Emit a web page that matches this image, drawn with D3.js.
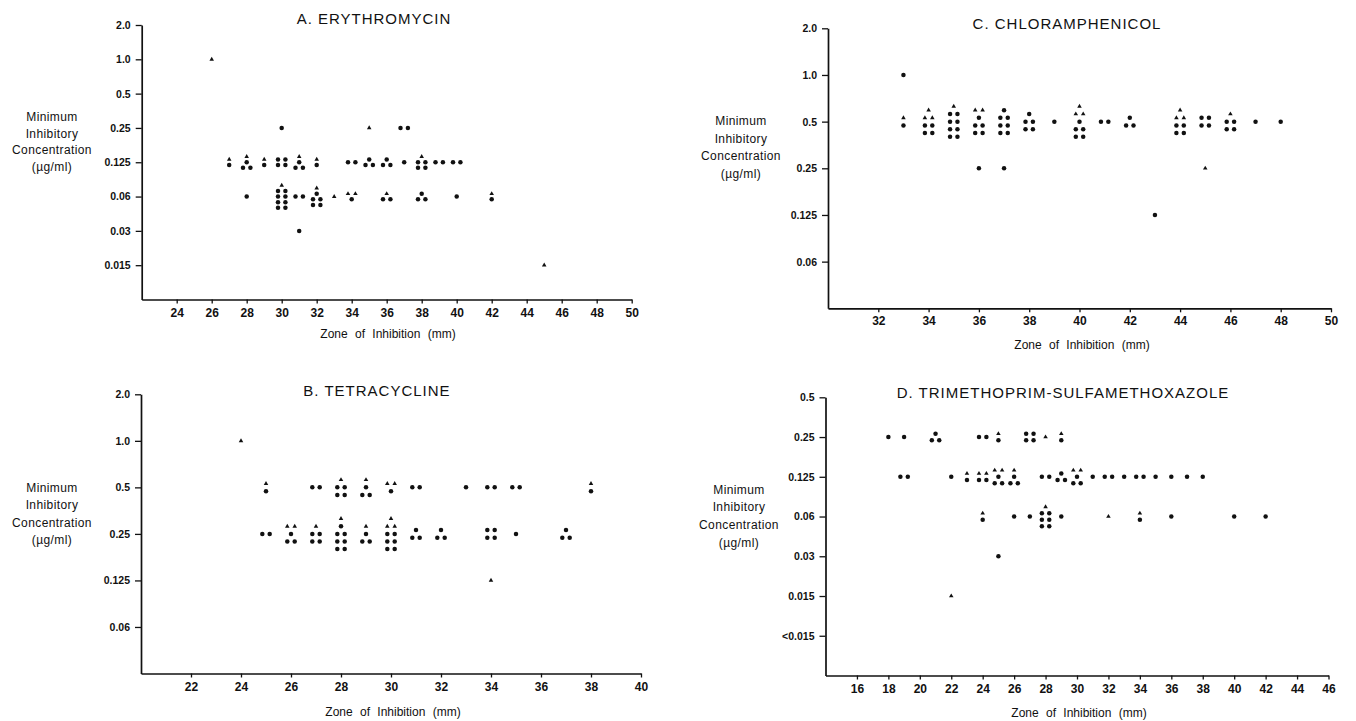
<!DOCTYPE html>
<html><head><meta charset="utf-8">
<script src="https://cdn.jsdelivr.net/npm/d3@7"></script>
<style>
html,body{margin:0;padding:0;background:#fff;}
svg{display:block;font-family:"Liberation Sans",Arial,Helvetica,sans-serif;}
</style></head><body>
<svg id="chart" width="1356" height="721"></svg>
<script>
// ---------------- DATA ----------------
// Each record: [zone of inhibition (mm), MIC label, number of circles, number of triangles]
const erythromycinMic = ["0.015","0.03","0.06","0.125","0.25","0.5","1.0","2.0"];
const erythromycinZones = [24,26,28,30,32,34,36,38,40,42,44,46,48,50];
const erythromycin = [
  [26,"1.0",0,1],
  [30,"0.25",1,0],[35,"0.25",0,1],[37,"0.25",2,0],
  [27,"0.125",1,1],[28,"0.125",3,1],[29,"0.125",1,1],[30,"0.125",4,0],[31,"0.125",3,1],[32,"0.125",1,1],
  [34,"0.125",2,0],[35,"0.125",3,0],[36,"0.125",3,0],[37,"0.125",1,0],[38,"0.125",4,1],[39,"0.125",2,0],[40,"0.125",2,0],
  [28,"0.06",1,0],[30,"0.06",8,1],[31,"0.06",2,0],[32,"0.06",5,1],[33,"0.06",0,1],[34,"0.06",1,2],
  [36,"0.06",2,1],[38,"0.06",3,0],[40,"0.06",1,0],[42,"0.06",1,1],
  [31,"0.03",1,0],
  [45,"0.015",0,1]
];

const tetracyclineMic = ["0.06","0.125","0.25","0.5","1.0","2.0"];
const tetracyclineZones = [22,24,26,28,30,32,34,36,38,40];
const tetracycline = [
  [24,"1.0",0,1],
  [25,"0.5",1,1],[27,"0.5",2,0],[28,"0.5",4,1],[29,"0.5",3,1],[30,"0.5",1,2],[31,"0.5",2,0],
  [33,"0.5",1,0],[34,"0.5",2,0],[35,"0.5",2,0],[38,"0.5",1,1],
  [25,"0.25",2,0],[26,"0.25",3,2],[27,"0.25",4,1],[28,"0.25",7,1],[29,"0.25",3,1],[30,"0.25",6,3],
  [31,"0.25",3,0],[32,"0.25",3,0],[34,"0.25",4,0],[35,"0.25",1,0],[37,"0.25",3,0],
  [34,"0.125",0,1]
];

const chloramphenicolMic = ["0.06","0.125","0.25","0.5","1.0","2.0"];
const chloramphenicolZones = [32,34,36,38,40,42,44,46,48,50];
const chloramphenicol = [
  [33,"1.0",1,0],
  [33,"0.5",1,1],[34,"0.5",4,3],[35,"0.5",8,1],[36,"0.5",5,2],[37,"0.5",7,0],[38,"0.5",5,0],
  [39,"0.5",1,0],[40,"0.5",5,3],[41,"0.5",2,0],[42,"0.5",3,0],[44,"0.5",4,3],[45,"0.5",4,0],
  [46,"0.5",4,1],[47,"0.5",1,0],[48,"0.5",1,0],
  [36,"0.25",1,0],[37,"0.25",1,0],[45,"0.25",0,1],
  [43,"0.125",1,0]
];

const tmpSmxMic = ["<0.015","0.015","0.03","0.06","0.125","0.25","0.5"];
const tmpSmxZones = [16,18,20,22,24,26,28,30,32,34,36,38,40,42,44,46];
const tmpSmx = [
  [18,"0.25",1,0],[19,"0.25",1,0],[21,"0.25",3,0],[24,"0.25",2,0],[25,"0.25",1,1],[27,"0.25",4,0],
  [28,"0.25",0,1],[29,"0.25",1,1],
  [19,"0.125",2,0],[22,"0.125",1,0],[23,"0.125",1,1],[24,"0.125",2,2],[25,"0.125",3,2],[26,"0.125",3,1],
  [28,"0.125",2,0],[29,"0.125",3,0],[30,"0.125",3,2],[31,"0.125",1,0],[32,"0.125",2,0],[33,"0.125",1,0],
  [34,"0.125",2,0],[35,"0.125",1,0],[36,"0.125",1,0],[37,"0.125",1,0],[38,"0.125",1,0],
  [24,"0.06",1,1],[26,"0.06",1,0],[27,"0.06",1,0],[28,"0.06",6,1],[29,"0.06",1,0],[32,"0.06",0,1],
  [34,"0.06",1,1],[36,"0.06",1,0],[40,"0.06",1,0],[42,"0.06",1,0],
  [25,"0.03",1,0],
  [22,"0.015",0,1]
];

const yAxisTitle = ["Minimum","Inhibitory","Concentration","(\u00b5g/ml)"];
const xAxisTitle = "Zone of Inhibition (mm)";

// ---------------- LAYOUT ----------------
const panels = [
  {title:"A. ERYTHROMYCIN", data:erythromycin, mic:erythromycinMic, zones:erythromycinZones,
   xDomain:[22,50], xRange:[141.7,631.7], yRange:[299.5,25],
   titlePos:[374,24], xTitlePos:[388,338], yTitlePos:[52,121], yTitleGap:16.7},
  {title:"B. TETRACYCLINE", data:tetracycline, mic:tetracyclineMic, zones:tetracyclineZones,
   xDomain:[20,40], xRange:[141,641], yRange:[673.5,394.3],
   titlePos:[377,396], xTitlePos:[393,716], yTitlePos:[52,491.5], yTitleGap:17.5},
  {title:"C. CHLORAMPHENICOL", data:chloramphenicol, mic:chloramphenicolMic, zones:chloramphenicolZones,
   xDomain:[30,50], xRange:[828,1331], yRange:[308.3,28.3],
   titlePos:[1067,29], xTitlePos:[1082,349], yTitlePos:[741,125], yTitleGap:17.7},
  {title:"D. TRIMETHOPRIM-SULFAMETHOXAZOLE", data:tmpSmx, mic:tmpSmxMic, zones:tmpSmxZones,
   xDomain:[14,46], xRange:[825.5,1328.5], yRange:[675.5,397.3],
   titlePos:[1063,398], xTitlePos:[1079,717], yTitlePos:[739,493.5], yTitleGap:17.8}
];

const INK = "#111";
const R = 2.25, DX = 3.7;
const triSym = d3.symbol().type(d3.symbolTriangle).size(9);

const svg = d3.select("#chart");

panels.forEach(p => {
  const g = svg.append("g");
  const x = d3.scaleLinear().domain(p.xDomain).range(p.xRange);
  const y = d3.scaleLinear().domain([-1, p.mic.length - 1]).range(p.yRange);
  const step = Math.abs(y(0) - y(1));
  const gap = step * 0.163;

  // axes
  const xAxis = d3.axisBottom(x).tickValues(p.zones).tickSize(4).tickSizeOuter(0).tickPadding(4.5);
  const gx = g.append("g").attr("transform", `translate(0,${p.yRange[0]})`).call(xAxis);
  const yAxis = d3.axisLeft(y).tickValues(d3.range(p.mic.length)).tickFormat(i => p.mic[i])
      .tickSize(6).tickSizeOuter(0).tickPadding(5);
  const gy = g.append("g").attr("transform", `translate(${p.xRange[0]},0)`).call(yAxis);

  [gx, gy].forEach(a => {
    a.select(".domain").attr("stroke", INK).attr("stroke-width", 1.7);
    a.selectAll(".tick line").attr("stroke", INK).attr("stroke-width", 1.3);
    a.selectAll(".tick text").attr("fill", INK).style("font-family", '"Liberation Sans",Arial,sans-serif');
  });
  gx.selectAll(".tick text").style("font-size", "12px").style("font-weight", "bold");
  gy.selectAll(".tick text").style("font-size", "10.5px").style("font-weight", "bold");

  // titles
  g.append("text").attr("x", p.titlePos[0]).attr("y", p.titlePos[1])
    .attr("text-anchor", "middle").attr("fill", INK)
    .style("font-size", "15px").style("letter-spacing", "1px").text(p.title);
  g.append("text").attr("x", p.xTitlePos[0]).attr("y", p.xTitlePos[1])
    .attr("text-anchor", "middle").attr("fill", INK)
    .style("font-size", "12px").style("word-spacing", "4px").text(xAxisTitle);
  g.selectAll("text.ytitle").data(yAxisTitle).join("text").attr("class", "ytitle")
    .attr("x", p.yTitlePos[0]).attr("y", (d, i) => p.yTitlePos[1] + i * p.yTitleGap)
    .attr("text-anchor", "middle").attr("fill", INK)
    .style("font-size", "12px").style("letter-spacing", "0.4px").text(d => d);

  // marks: stack circles (rows of two from the bottom) with triangles above, cluster centred on the value
  const marks = [];
  p.data.forEach(([zone, mic, nc, nt]) => {
    const rows = [];
    const addRows = (n, type) => {
      for (let k = 0; k < Math.floor(n / 2); k++) rows.push({type, n: 2});
      if (n % 2) rows.push({type, n: 1});
    };
    addRows(nc, "c");
    addRows(nt, "t");
    const cx = x(zone), cy = y(p.mic.indexOf(mic));
    rows.forEach((r, ri) => {
      const yy = cy + ((rows.length - 1) / 2 - ri) * gap;
      const offs = r.n === 2 ? [-DX, DX] : [0];
      offs.forEach(o => marks.push({type: r.type, x: cx + o, y: yy}));
    });
  });

  g.selectAll("circle.pt").data(marks.filter(m => m.type === "c")).join("circle")
    .attr("class", "pt").attr("cx", d => d.x).attr("cy", d => d.y).attr("r", R).attr("fill", INK);
  g.selectAll("path.tri").data(marks.filter(m => m.type === "t")).join("path")
    .attr("class", "tri").attr("d", triSym)
    .attr("transform", d => `translate(${d.x},${d.y})`).attr("fill", INK);
});
</script>
</body></html>
